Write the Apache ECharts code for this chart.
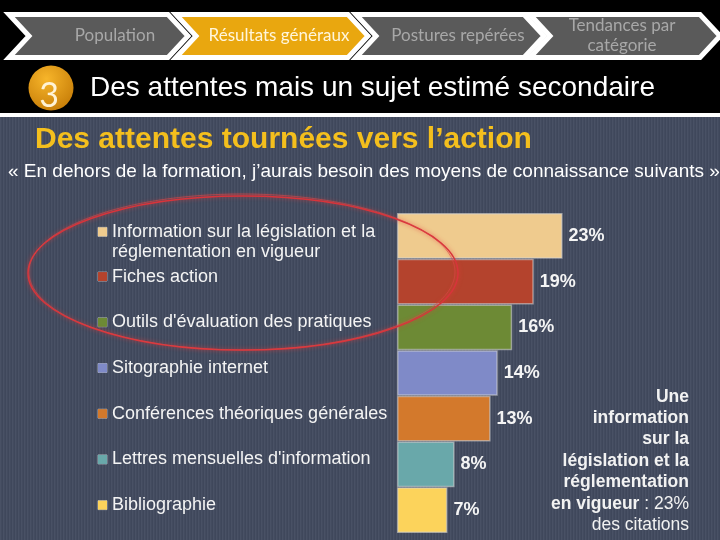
<!DOCTYPE html>
<html><head><meta charset="utf-8">
<script src="https://cdn.jsdelivr.net/npm/echarts@6.0.0/dist/echarts.min.js"></script>
<style>html,body{margin:0;padding:0;background:#000}#c{width:720px;height:540px}</style>
</head><body><div id="c"></div><script>
// ---- data ----
const steps = ["Population", "Résultats généraux", "Postures repérées", "Tendances par\ncatégorie"];
const slideTitle = "Des attentes mais un sujet estimé secondaire";
const heading = "Des attentes tournées vers l’action";
const question = "« En dehors de la formation, j’aurais besoin des moyens de connaissance suivants »";
const categories = [
  "Information sur la législation et la\nréglementation en vigueur",
  "Fiches action",
  "Outils d'évaluation des pratiques",
  "Sitographie internet",
  "Conférences théoriques générales",
  "Lettres mensuelles d'information",
  "Bibliographie"
];
const values = [23, 19, 16, 14, 13, 8, 7];
const barColors = ["#efcb8e", "#b4432d", "#6d8a35", "#7f8ac8", "#d3792c", "#69a8aa", "#fcd35b"];

// ---- background stripes ----
const pc = document.createElement('canvas'); pc.width = 3; pc.height = 4;
const g = pc.getContext('2d');
g.fillStyle = '#434b5f'; g.fillRect(0, 0, 3, 4);
g.fillStyle = '#495165'; g.fillRect(0, 0, 1, 4);
g.fillStyle = '#3f475b'; g.fillRect(2, 0, 1, 4);

const chart = echarts.init(document.getElementById('c'));

const rich = {
  t: { color: '#f4f4f4', fontSize: 18, fontFamily: 'Liberation Sans, Arial', lineHeight: 20 },
  g: { width: 5, height: 9 },
  sp: { width: 14, height: 9 },
  b: { fontSize: 8, lineHeight: 10 },
  b6: { fontSize: 8, lineHeight: 12 }
};
barColors.forEach((c, i) => {
  rich['sq' + i] = { width: 9, height: 9, backgroundColor: c, borderColor: 'rgba(255,255,255,0.5)', borderWidth: 0.5 };
});

// chevrons
const chev = [[9, 168], [176, 348], [356, 524], [530, 700]];
const chevTextX = [115, 279, 458, 622];
const chevFill = ['#5a5a5a', '#e9a70f', '#5a5a5a', '#5a5a5a'];
const chevText = ['#a8a8a8', '#fff6dc', '#a8a8a8', '#a8a8a8'];
const graphics = [
  { type: 'rect', shape: { x: 0, y: 113, width: 720, height: 4 }, style: { fill: '#ffffff' }, z: -5 },
  { type: 'rect', shape: { x: 0, y: 117, width: 720, height: 423 }, style: { fill: { image: pc, repeat: 'repeat' } }, z: -5 }
];
chev.forEach((c, i) => {
  const d = 20, y0 = 14.5, y1 = 57.5, ym = 36;
  graphics.push({
    type: 'polygon', z: 1,
    shape: { points: [[c[0], y0], [c[1], y0], [c[1] + d, ym], [c[1], y1], [c[0], y1], [c[0] + d, ym]] },
    style: { fill: chevFill[i], stroke: '#ffffff', lineWidth: 5, lineJoin: 'miter' }
  });
  graphics.push({
    type: 'text', z: 2, x: chevTextX[i], y: ym,
    style: { text: steps[i], fill: chevText[i], font: '17px Lato', align: 'center', verticalAlign: 'middle', lineHeight: 20 }
  });
});
graphics.push(
  { type: 'circle', z: 2, shape: { cx: 51, cy: 88, r: 22.5 },
    style: { fill: new echarts.graphic.RadialGradient(0.4, 0.3, 0.8, [{ offset: 0, color: '#f7b52a' }, { offset: 1, color: '#c47a06' }]) } },
  { type: 'text', z: 3, x: 49, y: 96, style: { text: '3', fill: '#fff3d6', font: '34px Lato', align: 'center', verticalAlign: 'middle' } },
  { type: 'text', z: 3, x: 90, y: 88, style: { text: slideTitle, fill: '#ffffff', font: '28px "Liberation Sans", Arial', verticalAlign: 'middle' } },
  { type: 'text', z: 3, x: 35, y: 140, style: { text: heading, fill: '#f4bf1d', font: 'bold 30px "Liberation Sans", Arial', verticalAlign: 'middle' } },
  { type: 'text', z: 3, x: 8, y: 172, style: { text: question, fill: '#ffffff', font: '19px "Liberation Sans", Arial', verticalAlign: 'middle' } },
  { type: 'ellipse', z: 100, shape: { cx: 243, cy: 273, rx: 215, ry: 77 },
    style: { fill: 'none', stroke: '#d8343b', lineWidth: 1.5, shadowBlur: 4, shadowColor: 'rgba(230,60,60,0.8)' } },
  { type: 'ellipse', z: 100, shape: { cx: 242, cy: 272, rx: 213, ry: 78 },
    style: { fill: 'none', stroke: 'rgba(220,70,70,0.6)', lineWidth: 1 } },
  { type: 'text', z: 3, x: 689, y: 461,
    style: {
      text: '{b|Une}\n{b|information}\n{b|sur la}\n{b|législation et la}\n{b|réglementation}\n{b|en vigueur}{n| : 23%}\n{n|des citations}',
      align: 'right', verticalAlign: 'middle',
      rich: {
        b: { fill: '#f2f2f2', font: 'bold 17.5px "Liberation Sans", Arial', lineHeight: 21.4, align: 'right' },
        n: { fill: '#f2f2f2', font: '17.5px "Liberation Sans", Arial', lineHeight: 21.4, align: 'right' }
      }
    } }
);

chart.setOption({
  backgroundColor: '#000000',
  animation: false,
  grid: { left: 397, top: 213, width: 216, height: 320 },
  xAxis: { type: 'value', min: 0, max: 30, show: false },
  yAxis: {
    type: 'category', data: categories, inverse: true,
    axisLine: { show: false }, axisTick: { show: false }, splitLine: { show: false },
    axisLabel: {
      align: 'left', margin: 299, interval: 0,
      formatter: function (v, i) {
        const lines = v.split('\n');
        if (lines.length > 1) {
          return '{b6| }\n{sq' + i + '|}{g|}{t|' + lines[0] + '}\n{sp|}{t|' + lines[1] + '}';
        }
        return '{sq' + i + '|}{g|}{t|' + v + '}\n{b| }';
      },
      rich: rich
    }
  },
  series: [{
    type: 'bar',
    barCategoryGap: '0%',
    data: values.map((v, i) => ({ value: v, itemStyle: { color: barColors[i] } })),
    itemStyle: { borderColor: 'rgba(215,215,215,0.55)', borderWidth: 1.5 },
    label: { show: true, position: 'right', distance: 6, formatter: '{c}%', color: '#f4f4f4',
      fontWeight: 'bold', fontSize: 18, fontFamily: '"Liberation Sans", Arial' }
  }],
  graphic: graphics
});
</script></body></html>
